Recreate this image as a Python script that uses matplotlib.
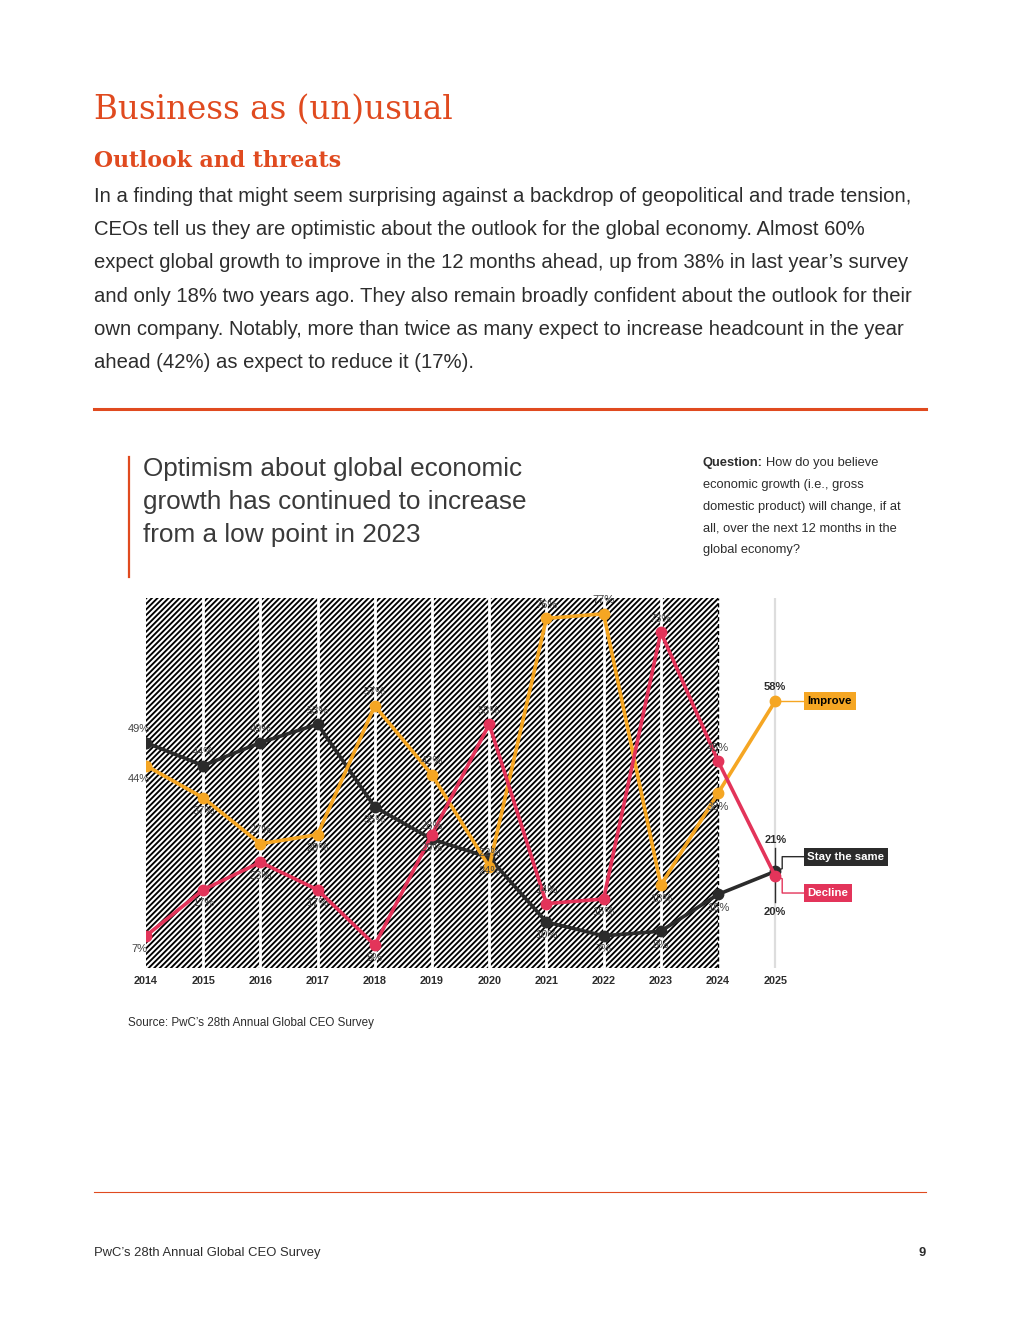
import matplotlib
matplotlib.use("Agg")
import matplotlib.pyplot as plt
from matplotlib.patches import Rectangle

plt.rcParams['font.family'] = ['Liberation Sans', 'DejaVu Sans']
plt.rcParams['hatch.linewidth'] = 1.35

# data (% of CEOs)
years = [2014, 2015, 2016, 2017, 2018, 2019, 2020, 2021, 2022, 2023, 2024, 2025]
improve = [44, 37, 27, 29, 57, 42, 22, 76, 77, 18, 38, 58]
decline = [7, 17, 23, 17, 5, 29, 53, 14, 15, 73, 45, 20]
same = [49, 44, 49, 53, 35, 28, 24, 10, 7, 8, 16, 21]

# label side: 1 above, -1 below
improve_side = [-1, -1, 1, -1, 1, 1, 1, 1, 1, -1, -1, 1]
decline_side = [-1, -1, -1, -1, -1, -1, 1, 1, -1, 1, 1, -1]
same_side = [1, 1, 1, 1, -1, 1, -1, -1, -1, -1, -1, 1]

ORANGE = '#E04A1F'
C_IMP = '#F5A623'
C_DEC = '#E3345A'
C_SAME = '#2B2B2B'
TXT = '#2D2D2D'

W, H = 1020, 1320
fig = plt.figure(figsize=(W / 100, H / 100), dpi=100)


def fy(py):
    return 1 - py / H


def fx(px):
    return px / W


# page header
fig.text(fx(94), fy(110), 'Business as (un)usual', family='DejaVu Serif',
         fontsize=23.5, color=ORANGE, va='center')
fig.text(fx(94), fy(161), 'Outlook and threats', family='DejaVu Serif',
         fontsize=15.8, weight='bold', color=ORANGE, va='center')

body = [
    'In a finding that might seem surprising against a backdrop of geopolitical and trade tension,',
    'CEOs tell us they are optimistic about the outlook for the global economy. Almost 60%',
    'expect global growth to improve in the 12 months ahead, up from 38% in last year\u2019s survey',
    'and only 18% two years ago. They also remain broadly confident about the outlook for their',
    'own company. Notably, more than twice as many expect to increase headcount in the year',
    'ahead (42%) as expect to reduce it (17%).',
]
for i, line in enumerate(body):
    fig.text(fx(94), fy(196 + i * 33.4), line, fontsize=14.6, color=TXT, va='center')

fig.add_artist(plt.Line2D([fx(94), fx(926)], [fy(409), fy(409)], color=ORANGE, lw=2.2))

# chart title block
fig.add_artist(plt.Line2D([fx(129), fx(129)], [fy(457), fy(577)], color=ORANGE, lw=1.6))
for i, line in enumerate(['Optimism about global economic',
                          'growth has continued to increase',
                          'from a low point in 2023']):
    fig.text(fx(143), fy(469 + i * 33), line, fontsize=18.8, color='#3A3A3A', va='center')

QS = 9.3
q = fig.text(fx(703), fy(463), 'Question:', fontsize=QS, weight='bold', color=TXT, va='center')
r = fig.canvas.get_renderer()
bb = q.get_window_extent(renderer=r)
fig.text((bb.x1 + 3) / W, fy(463), 'How do you believe', fontsize=QS, color=TXT, va='center')
for i, line in enumerate(['economic growth (i.e., gross',
                          'domestic product) will change, if at',
                          'all, over the next 12 months in the',
                          'global economy?']):
    fig.text(fx(703), fy(485 + i * 21.6), line, fontsize=QS, color=TXT, va='center')

# chart
left, right, top, bottom = 146, 926, 598, 968
ax = fig.add_axes([fx(left), fy(bottom), (right - left) / W, (bottom - top) / H])
step = 57.2
ax.set_xlim(2014, 2014 + (right - left) / step)
ax.set_ylim(0, (bottom - top) / 4.6)
for s in ax.spines.values():
    s.set_visible(False)
ax.set_yticks([])
ax.set_xticks(years)
ax.set_xticklabels([str(y) for y in years], fontsize=7.8, weight='bold', color=TXT)
ax.tick_params(axis='x', length=0, pad=6)

ymax = ax.get_ylim()[1]
ax.add_patch(Rectangle((years[0], 0), years[-2] - years[0], ymax, facecolor='white',
                       edgecolor='black', hatch='//////', lw=0, zorder=0))
for y in years[1:-2]:
    ax.axvline(y, color='white', lw=2, zorder=1)
ax.axvline(years[-2], color='black', lw=1, ls=(0, (3, 2)), zorder=1)
ax.axvline(years[-1], color='#DDDDDD', lw=1.6, zorder=1)

for vals, col in [(same, C_SAME), (improve, C_IMP), (decline, C_DEC)]:
    ax.plot(years, vals, color=col, lw=2.6, marker='o', ms=7.5, zorder=3,
            solid_capstyle='round')

# value labels (2025 handled separately)
off = 2.9
for vals, sides in [(improve, improve_side), (decline, decline_side), (same, same_side)]:
    for i, (x, v, s) in enumerate(zip(years[:-1], vals[:-1], sides[:-1])):
        dx = -0.12 if i == 0 else 0
        ax.text(x + dx, v + s * off, f'{v}%', ha='center', va='center', fontsize=8,
                color='#444444', zorder=4)

lab = dict(ha='center', va='center', fontsize=8, weight='bold', color=TXT, zorder=4)
ax.text(years[-1], improve[-1] + 3.1, f'{improve[-1]}%', **lab)
ax.text(years[-1], same[-1] + 6.9, f'{same[-1]}%', **lab)
ax.text(years[-1], decline[-1] - 7.8, f'{decline[-1]}%', **lab)

# 2025 ticks between the close values and their labels
ax.plot([years[-1], years[-1]], [same[-1] + 5.1, same[-1]], color=TXT, lw=1, zorder=2)
ax.plot([years[-1], years[-1]], [decline[-1], decline[-1] - 5.7], color=TXT, lw=1, zorder=2)

# legend boxes
bx = years[-1] + (805 - 775) / step
ex = years[-1] + (782 - 775) / step
ax.plot([years[-1], bx], [improve[-1], improve[-1]], color=C_IMP, lw=1, zorder=2)
ax.plot([years[-1], ex, ex, bx], [same[-1], same[-1] + 0.6, same[-1] + 3.2, same[-1] + 3.2],
        color=C_SAME, lw=1, zorder=2)
ax.plot([years[-1], ex, ex, bx], [decline[-1], decline[-1] - 0.6, decline[-1] - 3.7,
                                   decline[-1] - 3.7], color=C_DEC, lw=1, zorder=2)
for label, yv, fc, tc in [('Improve', improve[-1], C_IMP, 'black'),
                          ('Stay the same', same[-1] + 3.2, C_SAME, 'white'),
                          ('Decline', decline[-1] - 3.7, C_DEC, 'white')]:
    ax.text(bx + 0.04, yv, label, fontsize=8.2, weight='bold', color=tc, va='center',
            ha='left', zorder=5,
            bbox=dict(boxstyle='square,pad=0.35', fc=fc, ec='none'))

fig.text(fx(128), fy(1023), 'Source: PwC\u2019s 28th Annual Global CEO Survey', fontsize=8.4,
         color=TXT, va='center')

# footer
fig.add_artist(plt.Line2D([fx(94), fx(926)], [fy(1192), fy(1192)], color=ORANGE, lw=0.8))
fig.text(fx(94), fy(1253), 'PwC\u2019s 28th Annual Global CEO Survey', fontsize=9.4,
         color=TXT, va='center')
fig.text(fx(926), fy(1253), '9', fontsize=9.4, weight='bold', color=TXT, va='center', ha='right')

fig.savefig('out.png', dpi=100)
